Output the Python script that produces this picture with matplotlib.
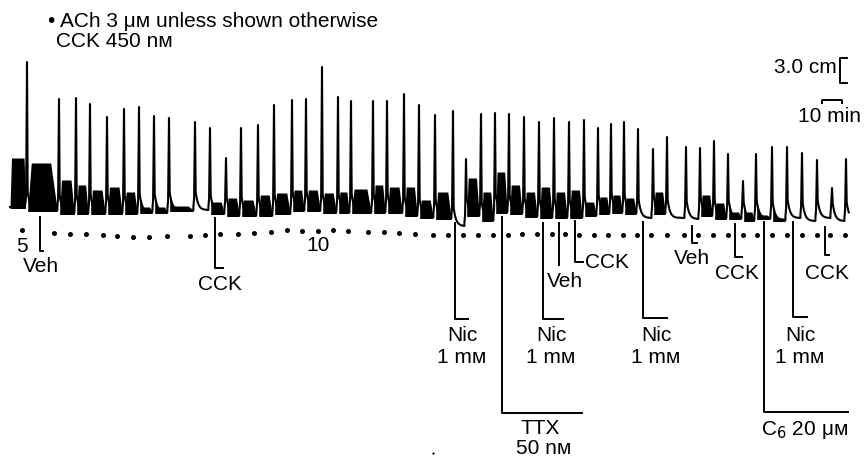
import numpy as np
import matplotlib
matplotlib.use("Agg")
import matplotlib.pyplot as plt

plt.rcParams['font.family'] = ['Liberation Sans', 'DejaVu Sans']

# ---------------- data (time axis in chart units, level axis in chart units; larger level = lower) -------------
# contraction peaks
peak_x = [27, 59, 76, 90, 107, 124, 139, 154, 169, 195, 210, 226, 241, 258, 274, 292,
          306, 322, 338, 351, 373, 387, 404, 419, 435, 453, 466, 481, 495, 509, 524,
          539, 554, 569, 584, 598, 611, 624, 638, 653, 667, 686, 700, 714, 728, 743,
          756, 772, 787, 802, 817, 832, 846]
peak_top = [62, 99, 98, 104, 117, 109, 107, 116, 118, 122, 128, 158, 128, 125, 105, 100,
            99, 67, 97, 101, 101, 101, 94, 105, 115, 111, 159, 114, 113, 114, 117,
            122, 118, 122, 120, 128, 124, 122, 129, 149, 137, 147, 148, 141, 154, 181,
            154, 147, 147, 153, 160, 188, 159]
# baseline after each peak
base_y = [210, 213, 213, 213, 213, 213, 212, 212, 210, 210, 213, 215, 215, 215, 213, 210,
          210, 212, 212, 212, 212, 212, 215, 217, 218, 226, 215, 220, 212, 213, 216,
          217, 217, 217, 215, 213, 212, 213, 218, 213, 218, 219, 215, 218, 218, 220,
          218, 220, 218, 221, 218, 221, 220]
# top of the dense oscillation band after each peak (equal to baseline when absent)
band_top = [163, 180, 185, 190, 187, 192, 207, 207, 206, 210, 202, 198, 200, 195, 193, 190,
            190, 193, 192, 189, 185, 187, 187, 200, 192, 226, 178, 192, 172, 185, 192,
            187, 192, 190, 202, 197, 195, 198, 218, 192, 218, 219, 195, 203, 212, 212,
            215, 218, 218, 221, 218, 221, 220]
lead_start, lead_band, lead_base = 10, 158, 207
trace_end = 849

# ACh additions (dots)
dot_x = [22, 54, 70, 86, 103, 117, 133, 149, 167, 190, 205, 220, 238, 254, 271, 287, 302,
         318, 333, 348, 368, 384, 399, 415, 433, 448, 463, 478, 493, 508, 522, 537, 552,
         565, 579, 594, 608, 623, 637, 651, 667, 684, 698, 713, 728, 743, 757, 772, 787,
         802, 817, 830, 845]
dot_y = [230, 233, 234, 234, 235, 236, 237, 237, 236, 236, 235, 234, 234, 233, 232, 230, 231,
         231, 230, 231, 232, 232, 233, 234, 235, 235, 235, 235, 235, 235, 234, 234, 234,
         234, 235, 235, 235, 235, 235, 235, 235, 235, 235, 235, 235, 235, 235, 235, 235,
         235, 235, 235, 235]

# drug application markers: (time, line top, line bottom, foot end)
marker_x = [40, 215, 455, 502, 543, 559, 575, 643, 692, 735, 764, 793, 825]
marker_top = [217, 218, 223, 217, 223, 223, 221, 222, 226, 224, 222, 222, 227]
marker_bot = [251, 268, 319, 413, 319, 265, 262, 318, 243, 257, 412, 317, 255]
marker_foot = [43, 223, 468, 582, 563, 559, 583, 667, 697, 742, 848, 807, 829]

# --------------------------------------------------------------------------------------------
fig = plt.figure(figsize=(8.66, 4.59), dpi=100)
ax = fig.add_axes([0, 0, 1, 1])
ax.set_xlim(0, 866)
ax.set_ylim(459, 0)
ax.axis('off')

sh, tau = 18.0, 2.4
k = np.linspace(0, 9, 14)
xs, ys = [lead_start], [lead_base]
n = len(peak_x)
# lead noise band
xl = np.array([lead_start, lead_start + 1.5, peak_x[0] - 3, peak_x[0] - 1.5])
ax.fill_between(xl, [lead_base, lead_band, lead_band, lead_base - 10], lead_base + 1.5,
                color='black', lw=0)
for i in range(n):
    xp, top, base = peak_x[i], peak_top[i], base_y[i]
    prev = base_y[i - 1] if i > 0 else lead_base
    nxt = peak_x[i + 1] if i < n - 1 else trace_end + 10
    xs += [xp - 1.6, xp - 0.9, xp]
    ys += [prev - 3, prev - 12, top]
    env_x = xp + 0.7 + k
    env_y = base - sh * np.exp(-k / tau)
    xs += list(env_x)
    ys += list(env_y)
    xs += [nxt - 1.6]
    ys += [base]
    # oscillation band (flat-topped, dropping just before the next contraction)
    if band_top[i] < base - 1:
        bx = np.linspace(xp + 0.7, nxt - 1.8, 60)
        u = (bx - bx[0]) / (bx[-1] - bx[0])
        ramp = np.clip(np.minimum(u / 0.12, (1 - u) / 0.22), 0, 1)
        band = base - (base - band_top[i]) * ramp
        env = base - sh * np.exp(-(bx - xp - 0.7) / tau)
        upper = np.minimum(env, band)
        ax.fill_between(bx, upper, base + 1.5, color='black', lw=0)

xs = np.array(xs)
ys = np.array(ys)
keep = xs <= trace_end
ax.plot(xs[keep], ys[keep], color='black', lw=1.5, solid_joinstyle='round')

# dots
ax.plot(dot_x, dot_y, 'o', color='black', ms=3.6, mew=0)

# markers
for mx, mt, mb, mf in zip(marker_x, marker_top, marker_bot, marker_foot):
    ax.plot([mx, mx, mf], [mt, mb, mb], color='black', lw=1.4)

fs = 15
txt = dict(color='black', fontsize=fs, va='baseline')
ax.text(48, 27, '• ACh 3 μᴍ unless shown otherwise', ha='left', **txt)
ax.text(56, 47, 'CCK 450 nᴍ', ha='left', **txt)
ax.text(22, 252, '5', ha='center', **txt)
ax.text(318, 251, '10', ha='center', **txt)
ax.text(41, 272, 'Veh', ha='center', **txt)
ax.text(220, 290, 'CCK', ha='center', **txt)
for cx in [462, 551, 656, 800]:
    ax.text(cx, 341, 'Nic', ha='center', **txt)
    ax.text(cx, 363, '1 mᴍ', ha='center', **txt)
ax.text(540, 434, 'TTX', ha='center', **txt)
ax.text(544, 454, '50 nᴍ', ha='center', **txt)
ax.text(565, 287, 'Veh', ha='center', **txt)
ax.text(585, 268, 'CCK', ha='left', **txt)
ax.text(692, 264, 'Veh', ha='center', **txt)
ax.text(737, 279, 'CCK', ha='center', **txt)
ax.text(827, 279, 'CCK', ha='center', **txt)
ax.text(805, 435, 'C$_6$ 20 μᴍ', ha='center', **txt)
ax.plot([433], [453], 'o', color='black', ms=1.6, mew=0)

# scale bars
ax.text(837, 73, '3.0 cm', ha='right', **txt)
ax.plot([847, 840, 840, 847], [58, 58, 83, 83], color='black', lw=1.4)
ax.plot([822, 822, 842, 842], [103, 100, 100, 103], color='black', lw=1.4)
ax.text(830, 122, '10 min', ha='center', **txt)

fig.savefig('out.png', dpi=100)
